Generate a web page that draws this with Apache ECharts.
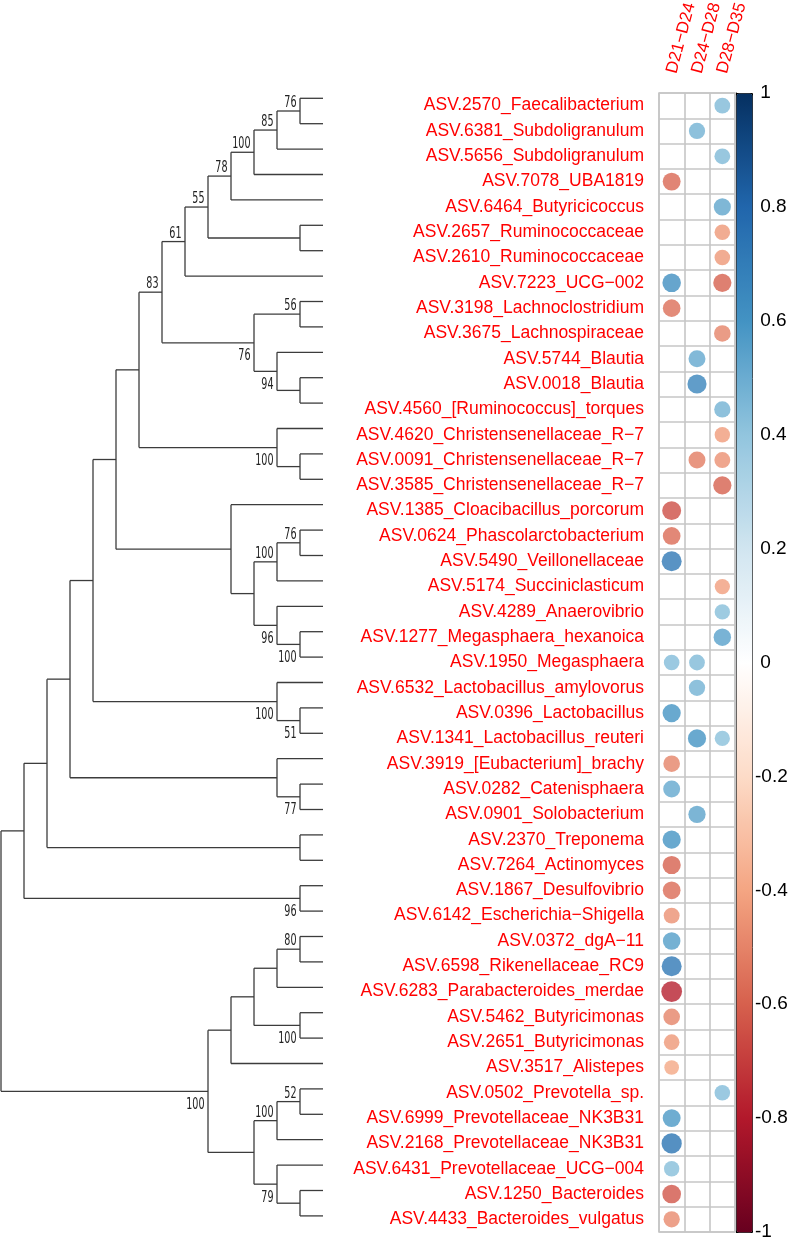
<!DOCTYPE html>
<html>
<head>
<meta charset="utf-8">
<script src="https://cdn.jsdelivr.net/npm/echarts@6/dist/echarts.min.js"></script>
<style>
html,body{margin:0;padding:0;background:#fff;}
#chart{width:791px;height:1240px;}
</style>
</head>
<body>
<div id="chart"></div>
<script>
// ---------- data ----------
const rowLabels = [
  'ASV.2570_Faecalibacterium','ASV.6381_Subdoligranulum','ASV.5656_Subdoligranulum','ASV.7078_UBA1819',
  'ASV.6464_Butyricicoccus','ASV.2657_Ruminococcaceae','ASV.2610_Ruminococcaceae','ASV.7223_UCG\u2212002',
  'ASV.3198_Lachnoclostridium','ASV.3675_Lachnospiraceae','ASV.5744_Blautia','ASV.0018_Blautia',
  'ASV.4560_[Ruminococcus]_torques','ASV.4620_Christensenellaceae_R\u22127','ASV.0091_Christensenellaceae_R\u22127',
  'ASV.3585_Christensenellaceae_R\u22127','ASV.1385_Cloacibacillus_porcorum','ASV.0624_Phascolarctobacterium',
  'ASV.5490_Veillonellaceae','ASV.5174_Succiniclasticum','ASV.4289_Anaerovibrio','ASV.1277_Megasphaera_hexanoica',
  'ASV.1950_Megasphaera','ASV.6532_Lactobacillus_amylovorus','ASV.0396_Lactobacillus','ASV.1341_Lactobacillus_reuteri',
  'ASV.3919_[Eubacterium]_brachy','ASV.0282_Catenisphaera','ASV.0901_Solobacterium','ASV.2370_Treponema',
  'ASV.7264_Actinomyces','ASV.1867_Desulfovibrio','ASV.6142_Escherichia\u2212Shigella','ASV.0372_dgA\u221211',
  'ASV.6598_Rikenellaceae_RC9','ASV.6283_Parabacteroides_merdae','ASV.5462_Butyricimonas','ASV.2651_Butyricimonas',
  'ASV.3517_Alistepes','ASV.0502_Prevotella_sp.','ASV.6999_Prevotellaceae_NK3B31','ASV.2168_Prevotellaceae_NK3B31',
  'ASV.6431_Prevotellaceae_UCG\u2212004','ASV.1250_Bacteroides','ASV.4433_Bacteroides_vulgatus'
];
const colLabels = ['D21\u2212D24','D24\u2212D28','D28\u2212D35'];
const _ = null;
const d21_24 = [_,_,_,-0.58,_,_,_,0.62,-0.56,_,_,_,_,_,_,_,-0.65,-0.57,0.72,_,_,_,0.44,_,0.60,_,-0.50,0.52,_,0.60,-0.60,-0.57,-0.46,0.56,0.72,-0.78,-0.50,-0.44,-0.39,_,0.58,0.74,0.43,-0.63,-0.48];
const d24_28 = [_,0.48,_,_,_,_,_,_,_,_,0.52,0.66,_,_,-0.52,_,_,_,_,_,_,_,0.45,0.48,_,0.60,_,_,0.54,_,_,_,_,_,_,_,_,_,_,_,_,_,_,_,_];
const d28_35 = [0.45,_,0.45,_,0.53,-0.44,-0.44,-0.60,_,-0.50,_,_,0.48,-0.43,-0.46,-0.60,_,_,_,-0.42,0.43,0.55,_,_,_,0.42,_,_,_,_,_,_,_,_,_,_,_,_,_,0.44,_,_,_,_,_];

// dendrogram: [id, level, upperChild, lowerChild, bootstrap]; numbers are leaf rows
const treeNodes = [
  ['a1',1,0,1,76],['a2',2,'a1',2,85],['a3',3,'a2',3,100],['a4',4,'a3',4,78],
  ['a5',1,5,6,0],['a6',5,'a4','a5',55],['a7',6,'a6',7,61],
  ['b1',1,8,9,56],['b2',1,11,12,0],['b3',2,10,'b2',94],['b4',3,'b1','b3',76],
  ['a8',7,'a7','b4',83],['c1',1,14,15,0],['c2',2,13,'c1',100],['a9',8,'a8','c2',0],
  ['d1',1,17,18,76],['d2',2,'d1',19,100],['d3',1,21,22,100],['d4',2,20,'d3',96],
  ['d5',3,'d2','d4',0],['d6',4,16,'d5',0],['a10',9,'a9','d6',0],
  ['e1',1,24,25,51],['e2',2,23,'e1',100],['a11',10,'a10','e2',0],
  ['f1',1,27,28,77],['f2',2,26,'f1',0],['a12',11,'a11','f2',0],
  ['g1',1,29,30,0],['a13',12,'a12','g1',0],['h1',1,31,32,96],['a14',13,'a13','h1',0],
  ['i1',1,33,34,80],['i2',2,'i1',35,0],['i3',1,36,37,100],['i4',3,'i2','i3',0],['i5',4,'i4',38,0],
  ['j1',1,39,40,52],['j2',2,'j1',41,100],['j3',1,43,44,0],['j4',2,42,'j3',79],['j5',3,'j2','j4',0],
  ['i6',5,'i5','j5',100],['root',14,'a14','i6',0]
];

// ---------- build ----------
const palette = ['#67001F','#B2182B','#D6604D','#F4A582','#FDDBC7','#FFFFFF','#D1E5F0','#92C5DE','#4393C3','#2166AC','#053061'];
const cols = [d21_24, d24_28, d28_35];
const matrixData = [];
cols.forEach((arr, c) => arr.forEach((v, r) => { if (v !== null) matrixData.push([c, r, v]); }));

const nodeInfo = {};
const parentSide = {};
treeNodes.forEach(n => { parentSide[n[2]] = 1; parentSide[n[3]] = -1; });
function info(ref) {
  if (typeof ref === 'number') return {level: 0, y: ref};
  return nodeInfo[ref];
}
const treeData = [];
treeNodes.forEach(n => {
  const a = info(n[2]), b = info(n[3]);
  const y = (a.y + b.y) / 2;
  nodeInfo[n[0]] = {level: n[1], y: y};
  treeData.push([n[1], y, a.level, a.y, b.level, b.y, n[4], parentSide[n[0]] || 0]);
});

const LINE = '#3c3c3c';
function renderTree(params, api) {
  const lv = api.value(0), y = api.value(1);
  const p = api.coord([lv, y]);
  const a = api.coord([lv, api.value(3)]), b = api.coord([lv, api.value(5)]);
  const ca = api.coord([api.value(2), api.value(3)]), cb = api.coord([api.value(4), api.value(5)]);
  const st = {stroke: LINE, lineWidth: 1.3};
  const children = [
    {type: 'line', shape: {x1: a[0], y1: a[1], x2: b[0], y2: b[1]}, style: st},
    {type: 'line', shape: {x1: a[0], y1: a[1], x2: ca[0], y2: ca[1]}, style: st},
    {type: 'line', shape: {x1: b[0], y1: b[1], x2: cb[0], y2: cb[1]}, style: st}
  ];
  const boot = api.value(6), side = api.value(7);
  if (boot > 0) {
    children.push({
      type: 'text', x: p[0] - 3.5, y: side >= 0 ? p[1] - 8 : p[1] + 13.5, scaleX: 0.6,
      style: {text: String(boot), x: 0, y: 0, align: 'right', verticalAlign: 'middle',
        fill: '#222', font: '16px "DejaVu Sans"'}
    });
  }
  return {type: 'group', children: children};
}

const chart = echarts.init(document.getElementById('chart'), null, {renderer: 'canvas'});
const GRID_TOP = 93, GRID_H = 1139;
chart.setOption({
  backgroundColor: '#fff',
  animation: false,
  grid: [
    {left: 659, top: GRID_TOP, width: 76, height: GRID_H, show: true, borderColor: '#c6c6c6', borderWidth: 1.6, outerBoundsMode: 'none', containLabel: false},
    {left: 736, top: GRID_TOP, width: 16, height: GRID_H, outerBoundsMode: 'none', containLabel: false},
    {left: 1, top: 98.3, width: 322, height: 1117.6, outerBoundsMode: 'none', containLabel: false}
  ],
  xAxis: [
    {gridIndex: 0, type: 'category', data: colLabels, position: 'top',
      axisLine: {show: false}, axisTick: {show: false},
      splitLine: {show: true, interval: 0, lineStyle: {color: '#c6c6c6', width: 1.6}},
      axisLabel: {interval: 0, rotate: -75, margin: 20, padding: [12, 0, 0, 0], color: '#ff0000', fontSize: 17, fontFamily: 'Liberation Sans'}},
    {gridIndex: 1, type: 'value', show: false, min: 0, max: 1},
    {gridIndex: 2, type: 'value', show: false, min: 0, max: 14, inverse: true}
  ],
  yAxis: [
    {gridIndex: 0, type: 'category', data: rowLabels, inverse: true,
      axisLine: {show: false}, axisTick: {show: false},
      splitLine: {show: true, interval: 0, lineStyle: {color: '#c6c6c6', width: 1.6}},
      axisLabel: {interval: 0, margin: 15, color: '#ff0000', fontSize: 17.5, fontFamily: 'Liberation Sans'}},
    {gridIndex: 1, type: 'value', min: -1, max: 1, interval: 0.2, position: 'right',
      axisLine: {show: true, lineStyle: {color: '#000', width: 1}},
      axisTick: {show: true, length: 4, lineStyle: {color: '#000', width: 1}},
      splitLine: {show: false},
      axisLabel: {margin: 3, color: '#000', fontSize: 19, fontFamily: 'Liberation Sans',
        formatter: v => { const r = Math.round(v * 10) / 10; return (r < 0 ? '-' : ' ') + String(Math.abs(r)); }}},
    {gridIndex: 2, type: 'value', show: false, min: 0, max: 44, inverse: true}
  ],
  visualMap: {
    type: 'continuous', min: -1, max: 1, dimension: 2, seriesIndex: 0,
    inRange: {color: palette}, calculable: false, hoverLink: false,
    left: 736, top: GRID_TOP, itemWidth: 16, itemHeight: GRID_H, padding: 0,
    borderColor: '#000', borderWidth: 1, text: null
  },
  series: [
    {type: 'scatter', xAxisIndex: 0, yAxisIndex: 0, data: matrixData, symbol: 'circle',
      symbolSize: v => 23.5 * Math.sqrt(Math.abs(v[2])), z: 5},
    {type: 'custom', xAxisIndex: 2, yAxisIndex: 2, data: treeData, renderItem: renderTree, clip: false, silent: true}
  ]
});
</script>
</body>
</html>
